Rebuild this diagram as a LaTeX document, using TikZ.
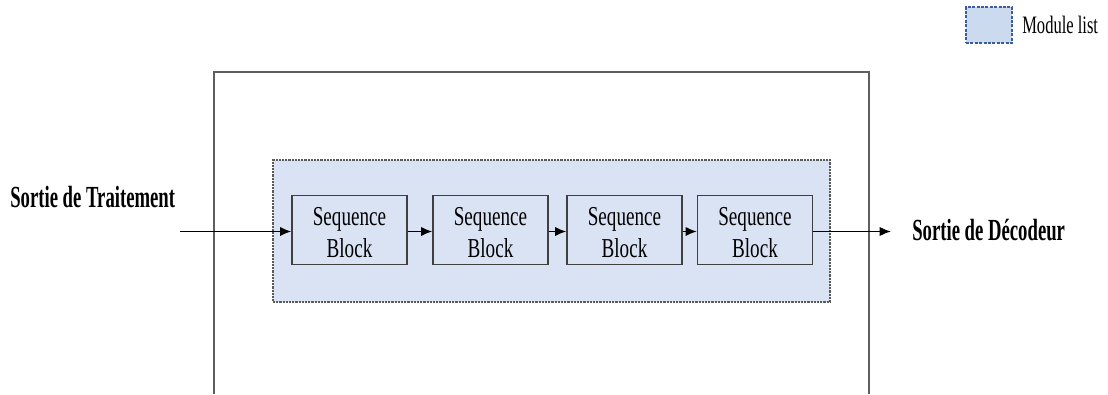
\documentclass[tikz,border=0pt]{standalone}
\usepackage{fontspec}
\usetikzlibrary{arrows.meta}
% Condensed Times-like faces for the labels
\newfontfamily\blockfont{Liberation Serif}[FakeStretch=0.7]
\newfontfamily\titlefont{Liberation Serif}[FakeStretch=0.61]
\newfontfamily\legendfont{Liberation Serif}[FakeStretch=0.66]
\definecolor{listfill}{HTML}{DAE3F3}
\definecolor{legendfill}{HTML}{CCDAF0}
\definecolor{legendedge}{HTML}{3A5D9C}
\definecolor{listedge}{HTML}{5A5A5A}
\definecolor{frameedge}{HTML}{5E5E5E}
\definecolor{blockedge}{HTML}{3F3F3F}
\tikzset{
  seqblock/.style={draw=blockedge, line width=1pt, fill=listfill,
    minimum width=86.25pt, minimum height=51.75pt, inner sep=0pt,
    align=center, font=\blockfont\fontsize{20.5}{24}\selectfont},
  blocktext/.style={inner sep=0pt, align=center,
    font=\blockfont\fontsize{20.5}{24}\selectfont},
  modlist/.style={draw=listedge, line width=0.8pt, fill=listfill,
    dash pattern=on 1.6pt off 0.8pt, minimum width=417.75pt,
    minimum height=106.5pt, inner sep=0pt},
  legendbox/.style={draw=legendedge, line width=1.1pt, fill=legendfill,
    dash pattern=on 2.2pt off 1.1pt, minimum width=34.5pt,
    minimum height=27pt, inner sep=0pt},
  iolabel/.style={font=\titlefont\bfseries\fontsize{23}{27}\selectfont,
    inner sep=0pt, anchor=base west},
  flow/.style={line width=1.1pt, -{Latex[length=8.5pt,width=7pt]}},
  frame/.style={draw=frameedge, line width=1pt}
}
\begin{document}
\begin{tikzpicture}[x=0.75pt, y=-0.75pt]
  \useasboundingbox (0,0) rectangle (1108,394);
  % outer frame, open at the bottom
  \draw[frame] (214,394) -- (214,72) -- (869,72) -- (869,394);
  % legend
  \node[legendbox] (legend) at (989,25) {};
  \node[font=\legendfont\fontsize{18.8}{22}\selectfont, inner sep=0pt,
        anchor=base west] (legendtext) at (1022,33) {Module list};
  % module list container
  \node[modlist] (list) at (551.5,231) {};
  % sequence blocks (label sits slightly below the box centre)
  \foreach \name/\cx in {b1/349.5, b2/490.5, b3/624.5, b4/755}{
    \node[seqblock] (\name) at (\cx,230) {};
    \node[blocktext] (\name t) at (\cx,233) {Sequence\\Block};
  }
  % input and output
  \node[iolabel] (in) at (10,207) {Sortie de Traitement};
  \node[iolabel] (out) at (912,240) {Sortie de Décodeur};
  \coordinate (src) at (180,231.5);
  \coordinate (dst) at (891,231.5);
  % connectors
  \draw[flow] (src) -- (src -| b1.west);
  \draw[flow] (b1.east |- src) -- (b2.west |- src);
  \draw[flow] (b2.east |- src) -- (b3.west |- src);
  \draw[flow] (b3.east |- src) -- (b4.west |- src);
  \draw[flow] (b4.east |- src) -- (dst);
\end{tikzpicture}
\end{document}
